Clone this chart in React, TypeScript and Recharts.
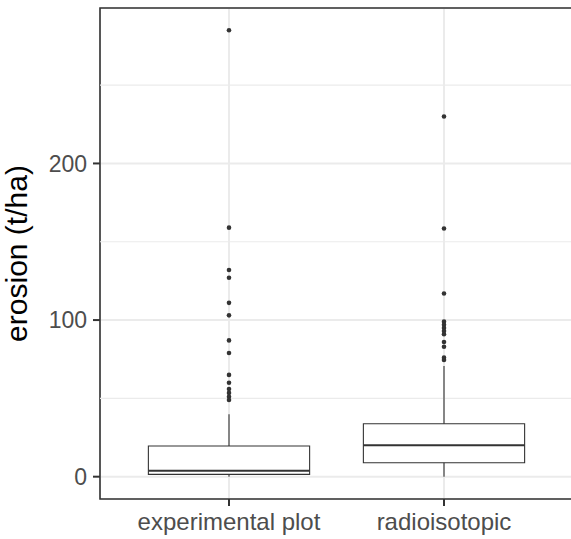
import React from 'react';
import {
  ComposedChart,
  Scatter,
  XAxis,
  YAxis,
  CartesianGrid,
  ReferenceArea,
  ReferenceLine
} from 'recharts';

// box plot summary per category
const categories = ['experimental plot', 'radioisotopic'];
const lowerWhisker = [0, 0];
const q1 = [1.5, 8.9];
const median = [3.8, 20.0];
const q3 = [19.6, 33.8];
const upperWhisker = [39.8, 70.6];

const outliersExperimental = [285, 159, 132, 127, 111, 103, 87, 79, 65, 60, 56, 53.5, 51, 49];
const outliersRadioisotopic = [230, 158.5, 117, 99, 97, 95, 93, 91, 86, 83, 76, 74.5];

const yTicks = [0, 100, 200];
const yMinorTicks = [50, 150, 250];
const yDomain = [-14.25, 299.25];
const xDomain = [0.4, 2.6];
const boxHalf = 0.375;

const outlierData = [
  ...outliersExperimental.map((v) => ({ x: 1, y: v })),
  ...outliersRadioisotopic.map((v) => ({ x: 2, y: v }))
];

const ink = '#333333';

const Dot = (props: any) => <circle cx={props.cx} cy={props.cy} r={2.3} fill={ink} />;

export default function App() {
  return (
    <div style={{ position: 'absolute', left: 0, top: 0, width: 571, height: 539, overflow: 'hidden', background: '#fff' }}>
      <ComposedChart
        width={573}
        height={539}
        margin={{ top: 8, right: 0, bottom: 0, left: 0 }}
        style={{ fontFamily: '"Liberation Sans", Arial, sans-serif' }}
      >
        <CartesianGrid stroke="#EBEBEB" strokeWidth={2} />
        <XAxis
          type="number"
          dataKey="x"
          domain={xDomain}
          ticks={[1, 2]}
          allowDataOverflow
          tickFormatter={(v) => categories[v - 1]}
          height={40}
          axisLine={false}
          tickLine={{ stroke: ink, strokeWidth: 2 }}
          tickSize={7}
          tickMargin={7}
          tick={{ fill: '#4D4D4D', fontSize: 24 }}
        />
        <YAxis
          type="number"
          dataKey="y"
          domain={yDomain}
          ticks={yTicks}
          allowDataOverflow
          width={100}
          axisLine={false}
          tickLine={{ stroke: ink, strokeWidth: 2 }}
          tickSize={7}
          tickMargin={6}
          tick={{ fill: '#4D4D4D', fontSize: 23 }}
          label={{
            value: 'erosion (t/ha)',
            angle: -90,
            position: 'insideLeft',
            offset: 16,
            style: { textAnchor: 'middle', fill: '#000', fontSize: 30 }
          }}
        />
        {yMinorTicks.map((t) => (
          <ReferenceLine key={'m' + t} y={t} stroke="#EBEBEB" strokeWidth={1.2} />
        ))}
        {categories.map((c, i) => {
          const x = i + 1;
          return (
            <React.Fragment key={c}>
              <ReferenceLine
                segment={[{ x, y: q3[i] }, { x, y: upperWhisker[i] }]}
                stroke={ink}
                strokeWidth={1.1}
              />
              <ReferenceLine
                segment={[{ x, y: lowerWhisker[i] }, { x, y: q1[i] }]}
                stroke={ink}
                strokeWidth={1.1}
              />
              <ReferenceArea
                x1={x - boxHalf}
                x2={x + boxHalf}
                y1={q1[i]}
                y2={q3[i]}
                fill="#fff"
                fillOpacity={1}
                stroke={ink}
                strokeWidth={1.1}
              />
              <ReferenceLine
                segment={[{ x: x - boxHalf, y: median[i] }, { x: x + boxHalf, y: median[i] }]}
                stroke={ink}
                strokeWidth={2}
              />
            </React.Fragment>
          );
        })}
        <Scatter data={outlierData} fill={ink} shape={<Dot />} isAnimationActive={false} />
        <ReferenceArea
          x1={xDomain[0]}
          x2={xDomain[1]}
          y1={yDomain[0]}
          y2={yDomain[1]}
          fill="none"
          stroke={ink}
          strokeWidth={1.6}
          ifOverflow="visible"
        />
      </ComposedChart>
    </div>
  );
}
